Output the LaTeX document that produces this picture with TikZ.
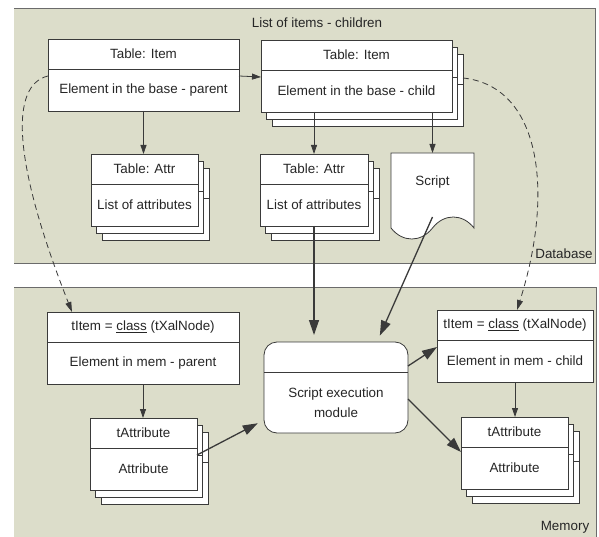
\documentclass[tikz,border=0pt]{standalone}
\usepackage{fontspec}
\setmainfont{Liberation Sans}
\usetikzlibrary{positioning, arrows.meta, shadows, shapes.symbols}
\definecolor{DBback}{HTML}{DCDDCA}
\definecolor{DBline}{HTML}{3A3A3A}
\definecolor{DBtext}{HTML}{262626}

\begin{document}
\begin{tikzpicture}[x=1pt, y=-1pt, font=\fontsize{13.4}{20}\selectfont, text=DBtext]

\tikzset{
  regionline/.style={DBline!75, line width=0.9pt},
  box/.style={draw=DBline, fill=white, line width=0.8pt, inner xsep=2pt, outer sep=0pt},
  tblhead/.style={box, anchor=north west, minimum height=30pt},
  tblbody/.style={box, minimum height=42pt},
  stack/.style={
    copy shadow={shadow xshift=11pt, shadow yshift=-14pt, opacity=1, draw=DBline, fill=white, line width=0.8pt},
    copy shadow={shadow xshift=5.5pt, shadow yshift=-7pt, opacity=1, draw=DBline, fill=white, line width=0.8pt}},
  docshape/.style={box, shape=tape, tape bend top=none, tape bend bottom=in and out, tape bend height=22pt, anchor=north},
  module/.style={box, rounded corners=13pt, minimum width=144pt, minimum height=91pt},
  dbarrow/.style={DBline, line width=0.8pt, -{Triangle[length=9pt, width=6pt]}},
  memarrow/.style={DBline, line width=1.3pt, -{Triangle[length=15pt, width=10pt]}},
  linkarrow/.style={DBline, line width=0.8pt, dash pattern=on 6pt off 4pt, -{Triangle[length=10pt, width=6pt]}},
}

  \useasboundingbox (0,0) rectangle (599,537);

  % -- regions: database and memory --
  \fill[DBback] (14,8) rectangle (595,263);
  \draw[regionline] (14,8) -- (595,8) -- (595,263) -- (14,263);
  \fill[DBback] (14,287) rectangle (596,537);
  \draw[regionline] (14,287) -- (596,287) -- (596,537);

  \node (listlbl) at (317,23) {List of items - children};
  \node (dblbl) at (564,254) {Database};
  \node (memlbl) at (565,527) {Memory};

  % -- database tables --
  \node[tblhead, minimum width=191pt] (itemPh) at (48,39) {Table: Item};
  \node[tblbody, minimum width=191pt, below=0pt of itemPh] (itemPb) {Element in the base - parent};

  \node[tblhead, stack, minimum width=191pt] (itemCh) at (261,40) {Table: Item};
  \node[tblbody, stack, minimum width=191pt, below=0pt of itemCh] (itemCb) {Element in the base - child};

  \node[tblhead, stack, minimum width=107pt] (attrPh) at (91,154) {Table: Attr};
  \node[tblbody, stack, minimum width=107pt, below=0pt of attrPh] (attrPb) {List of attributes};

  \node[tblhead, stack, minimum width=108pt] (attrCh) at (260,154) {Table: Attr};
  \node[tblbody, stack, minimum width=108pt, below=0pt of attrCh] (attrCb) {List of attributes};

  \node[docshape, minimum width=83pt, minimum height=86pt, text depth=8pt] (script) at (432.5,153) {Script};

  % -- memory objects --
  \node[tblhead, minimum width=192pt] (itemMPh) at (47,312) {tItem = \underline{class} (tXalNode)};
  \node[tblbody, minimum width=192pt, below=0pt of itemMPh] (itemMPb) {Element in mem - parent};

  \node[tblhead, stack, minimum width=107pt] (attrMPh) at (90,418) {tAttribute};
  \node[tblbody, stack, minimum width=107pt, below=0pt of attrMPh] (attrMPb) {Attribute};

  \node[tblhead, minimum width=156pt] (itemMCh) at (437,310) {tItem = \underline{class} (tXalNode)};
  \node[tblbody, minimum width=156pt, below=0pt of itemMCh] (itemMCb) {Element in mem - child};

  \node[tblhead, stack, minimum width=107pt] (attrMCh) at (461,417) {tAttribute};
  \node[tblbody, stack, minimum width=107pt, below=0pt of attrMCh] (attrMCb) {Attribute};

  \node[module] (module) at (336,387.5) {};
  \draw[DBline, line width=0.8pt] ([yshift=-30pt]module.north west) -- ([yshift=-30pt]module.north east);
  \node[align=center] (modtxt) at ([yshift=-15pt]module.center) {Script execution\\module};

  % -- connectors in the database --
  \draw[dbarrow] ([yshift=14pt]itemPb.east) -- ([yshift=14pt]itemCb.west);
  \draw[dbarrow] (itemPb.south) -- (itemPb.south |- attrPh.north);
  \draw[dbarrow] (attrCh.north |- itemCb.south) -- (attrCh.north);
  \draw[dbarrow] (script.north |- itemCb.south) -- (script.north);

  % -- links database -> memory --
  \draw[linkarrow] ([yshift=14pt]itemPb.west)
    .. controls +(-38,9) and +(-60,-152) .. ([xshift=-71pt]itemMPh.north);
  \draw[linkarrow] ([xshift=11pt, yshift=13pt]itemCb.east)
    .. controls +(77,8) and +(38,-120) .. ([xshift=2pt]itemMCh.north);

  % -- connectors in memory --
  \draw[memarrow, shorten >=7pt] (attrCb.south) -- (attrCb.south |- module.north);
  \draw[memarrow, shorten >=7pt] (script.south) -- ([xshift=41pt]module.north);
  \draw[dbarrow] (itemMPb.south) -- (itemMPb.south |- attrMPh.north);
  \draw[dbarrow] (itemMCb.south) -- (itemMCb.south |- attrMCh.north);
  \draw[memarrow, shorten >=7pt] ([yshift=14pt]attrMPb.east) -- ([yshift=-32.5pt]module.west);
  \draw[memarrow] ([yshift=21.5pt]module.east) -- ([yshift=14pt]itemMCb.west);
  \draw[memarrow] ([yshift=-11.5pt]module.east) -- ([yshift=16pt]attrMCb.west);

\end{tikzpicture}
\end{document}
